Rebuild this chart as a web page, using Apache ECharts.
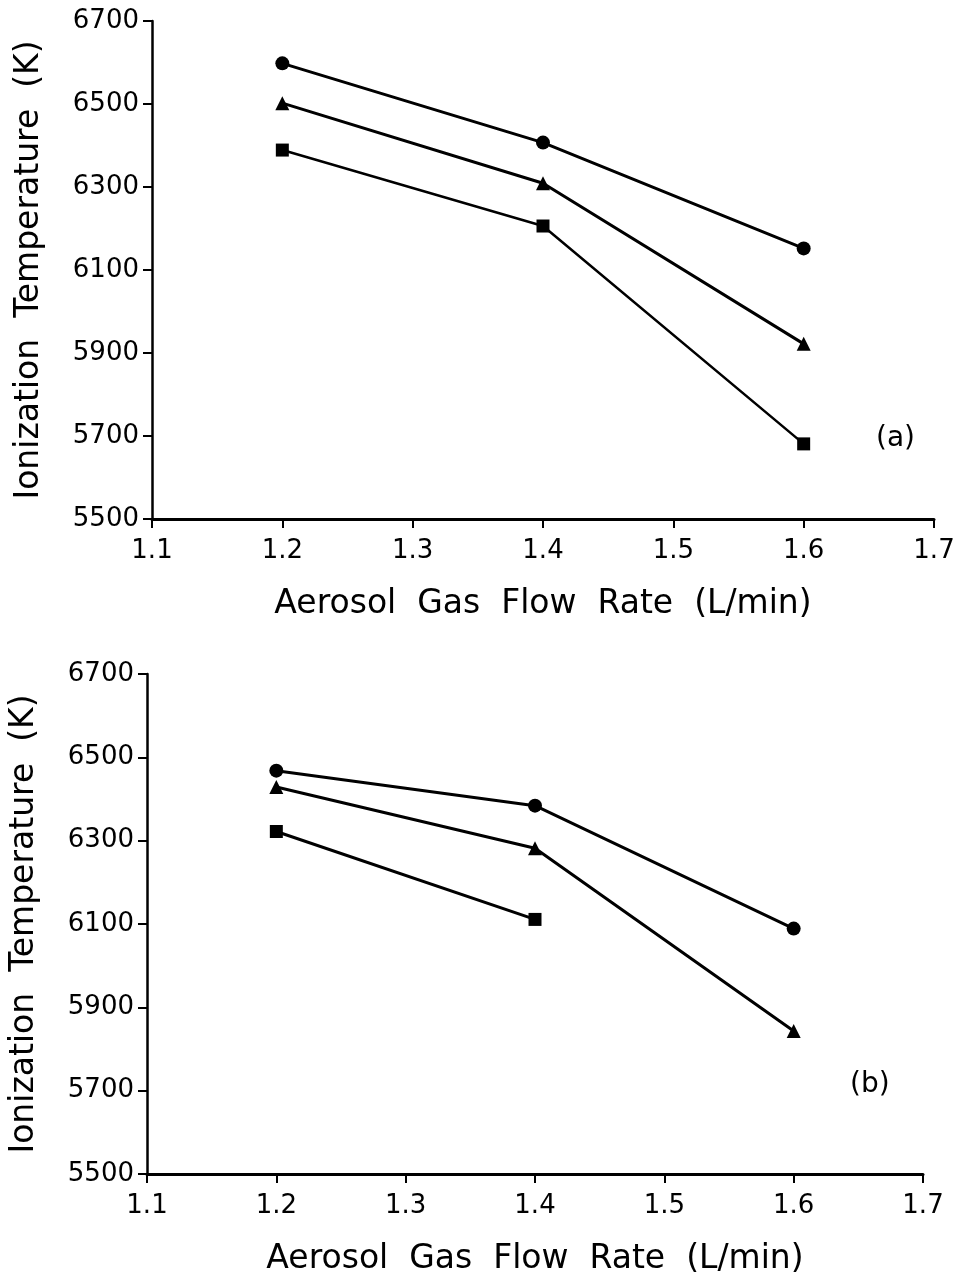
<!DOCTYPE html>
<html>
<head>
<meta charset="utf-8">
<script src="https://cdn.jsdelivr.net/npm/echarts@6/dist/echarts.min.js"></script>
<style>
html,body{margin:0;padding:0;background:#fff;}
#chart{width:960px;height:1277px;}
</style>
</head>
<body>
<div id="chart"></div>
<script>
// Data
const flowRates = [1.2, 1.4, 1.6];
const xTicks = [1.1, 1.2, 1.3, 1.4, 1.5, 1.6, 1.7];
const yTicks = [5500, 5700, 5900, 6100, 6300, 6500, 6700];

const a_circle = [6598, 6407, 6152];
const a_triangle = [6502, 6309, 5922];
const a_square = [6389, 6206, 5681];

const b_circle = [6468, 6384, 6089];
const b_triangle = [6429, 6282, 5843];
const b_square = [6322, 6111];

const panelLabels = ['(a)', '(b)'];
const xTitle = 'Aerosol  Gas  Flow  Rate  (L/min)';
const yTitle = 'Ionization  Temperature  (K)';

const FONT = 'DejaVu Sans';
const pairs = (ys) => ys.map((v, i) => [flowRates[i], v]);

function xAxis(gi) {
  return {
    gridIndex: gi, type: 'value', min: xTicks[0], max: xTicks[xTicks.length - 1], interval: 0.1,
    name: xTitle, nameLocation: 'middle', nameGap: 69,
    nameTextStyle: { fontFamily: FONT, fontSize: 33, color: '#000' },
    axisLine: { lineStyle: { color: '#000', width: 3 } },
    axisTick: { inside: false, length: 9, lineStyle: { color: '#000', width: 2 } },
    axisLabel: { fontFamily: FONT, fontSize: 26, color: '#000', margin: 19,
      formatter: v => v.toFixed(1) },
    splitLine: { show: false }
  };
}
function yAxis(gi) {
  return {
    gridIndex: gi, type: 'value', min: yTicks[0], max: yTicks[yTicks.length - 1], interval: 200,
    name: yTitle, nameLocation: 'middle', nameGap: 106, nameRotate: 90,
    nameTextStyle: { fontFamily: FONT, fontSize: 33, color: '#000' },
    axisLine: { show: true, lineStyle: { color: '#000', width: 2.5 } },
    axisTick: { show: true, length: 9, lineStyle: { color: '#000', width: 2 } },
    axisLabel: { fontFamily: FONT, fontSize: 26, color: '#000', margin: 13,
      formatter: v => String(v) },
    splitLine: { show: false }
  };
}
function ser(gi, ys, symbol, size, width) {
  return {
    type: 'line', xAxisIndex: gi, yAxisIndex: gi, data: pairs(ys),
    symbol: symbol, symbolSize: size, showSymbol: true,
    lineStyle: { color: '#000', width: width },
    itemStyle: { color: '#000', borderWidth: 0 },
    animation: false
  };
}

const chart = echarts.init(document.getElementById('chart'), null, { renderer: 'canvas' });
chart.setOption({
  backgroundColor: '#fff',
  animation: false,
  title: [
    { text: panelLabels[0], left: 871, top: 420,
      textStyle: { fontFamily: FONT, fontSize: 28, fontWeight: 'normal', color: '#000' } },
    { text: panelLabels[1], left: 845, top: 1066,
      textStyle: { fontFamily: FONT, fontSize: 28, fontWeight: 'normal', color: '#000' } }
  ],
  grid: [
    { left: 152, right: 26, top: 21, bottom: 758 },
    { left: 143, right: 37, top: 674, bottom: 102 }
  ],
  xAxis: [xAxis(0), xAxis(1)],
  yAxis: [yAxis(0), yAxis(1)],
  series: [
    ser(0, a_circle, 'circle', 14, 3),
    ser(0, a_triangle, 'triangle', 14, 3),
    ser(0, a_square, 'rect', 13, 2.5),
    ser(1, b_circle, 'circle', 14, 3),
    ser(1, b_triangle, 'triangle', 14, 3),
    ser(1, b_square, 'rect', 13, 3)
  ]
});
</script>
</body>
</html>
